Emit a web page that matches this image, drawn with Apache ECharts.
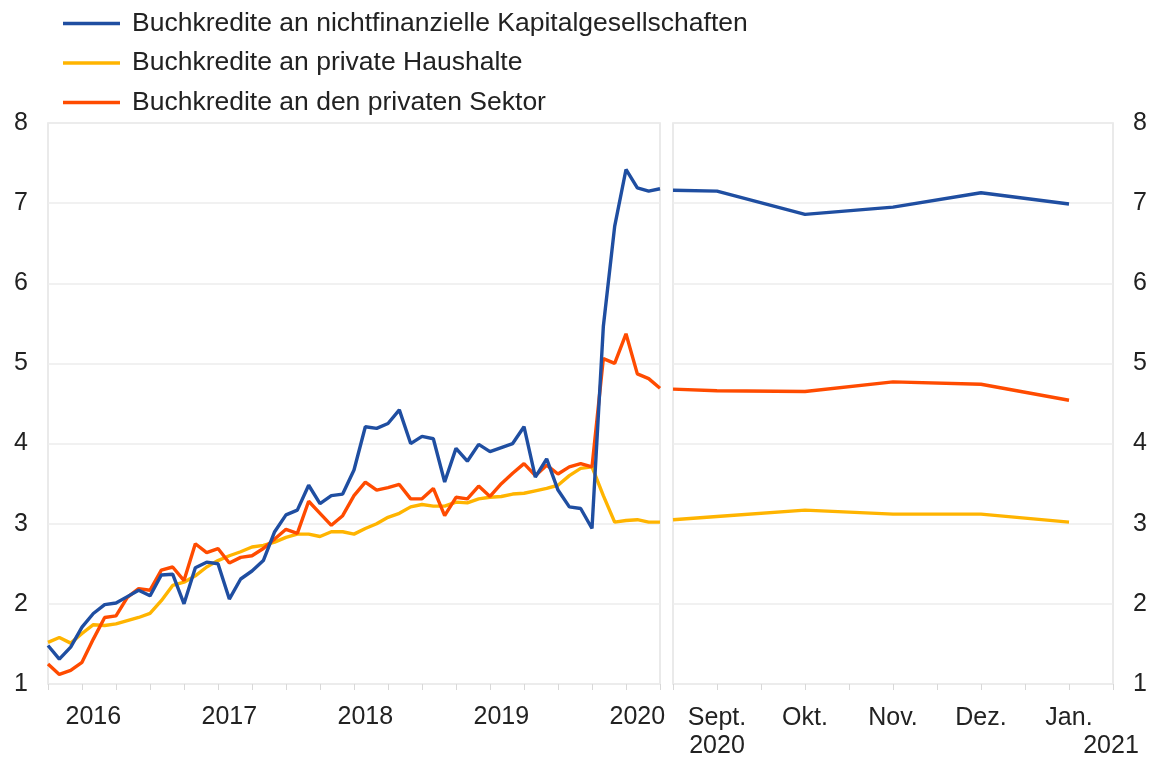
<!DOCTYPE html>
<html><head><meta charset="utf-8">
<script src="https://cdn.jsdelivr.net/npm/echarts@6/dist/echarts.min.js"></script>
<style>html,body{margin:0;padding:0;background:#fff}#c{width:1157px;height:758px}</style>
</head><body><div id="c"></div>
<script>
const seriesNames = [
  'Buchkredite an nichtfinanzielle Kapitalgesellschaften',
  'Buchkredite an private Haushalte',
  'Buchkredite an den privaten Sektor'
];
const colors = ['#1f4ea1', '#ffb400', '#ff4b00'];

// Left panel: monthly observations
const months = [
  '2016-02','2016-03','2016-04','2016-05','2016-06','2016-07','2016-08','2016-09','2016-10','2016-11','2016-12',
  '2017-01','2017-02','2017-03','2017-04','2017-05','2017-06','2017-07','2017-08','2017-09','2017-10','2017-11','2017-12',
  '2018-01','2018-02','2018-03','2018-04','2018-05','2018-06','2018-07','2018-08','2018-09','2018-10','2018-11','2018-12',
  '2019-01','2019-02','2019-03','2019-04','2019-05','2019-06','2019-07','2019-08','2019-09','2019-10','2019-11','2019-12',
  '2020-01','2020-02','2020-03','2020-04','2020-05','2020-06','2020-07','2020-08'
];
const nfcLeft = [
  1.48,1.31,1.46,1.71,1.88,1.99,2.01,2.09,2.17,2.10,2.36,
  2.37,2.00,2.45,2.52,2.50,2.06,2.31,2.41,2.54,2.90,3.11,3.17,
  3.48,3.25,3.35,3.37,3.67,4.21,4.19,4.25,4.42,4.00,4.09,4.06,
  3.52,3.94,3.78,3.99,3.90,3.95,4.00,4.21,3.58,3.81,3.42,3.21,
  3.19,2.94,5.46,6.71,7.42,7.19,7.15,7.18
];
const hhLeft = [
  1.52,1.58,1.51,1.63,1.74,1.73,1.75,1.79,1.83,1.88,2.04,
  2.23,2.27,2.35,2.46,2.54,2.60,2.65,2.71,2.73,2.77,2.83,2.87,
  2.87,2.84,2.90,2.90,2.87,2.94,3.00,3.08,3.13,3.21,3.24,3.22,
  3.22,3.27,3.26,3.31,3.33,3.34,3.37,3.38,3.41,3.44,3.48,3.60,
  3.69,3.71,3.35,3.02,3.04,3.05,3.02,3.02
];
const pspLeft = [
  1.25,1.12,1.17,1.27,1.56,1.83,1.85,2.08,2.19,2.17,2.42,
  2.46,2.29,2.75,2.64,2.69,2.51,2.58,2.60,2.69,2.81,2.93,2.88,
  3.28,3.13,2.98,3.10,3.35,3.52,3.42,3.45,3.49,3.31,3.31,3.44,
  3.10,3.33,3.31,3.47,3.34,3.50,3.63,3.75,3.60,3.73,3.62,3.71,
  3.75,3.71,5.06,5.00,5.37,4.87,4.81,4.69
];

// Right panel: Aug. 2020 (edge) to Jan. 2021, in months from Sept. 2020
const rightPos = [-0.5, 0, 1, 2, 3, 4];
const rightMonths = ['Sept.', 'Okt.', 'Nov.', 'Dez.', 'Jan.'];
const rightYears = ['2020', '', '', '', '2021'];
const nfcRight = [7.16, 7.15, 6.86, 6.95, 7.13, 6.99];
const hhRight = [3.05, 3.09, 3.17, 3.12, 3.12, 3.02];
const pspRight = [4.68, 4.66, 4.65, 4.77, 4.74, 4.54];

const FONT = 'Liberation Sans, Arial, sans-serif';
const TXT = '#222';
const FS = 25;

const chart = echarts.init(document.getElementById('c'));

function lineSeries(name, data, color, axis) {
  return {
    name, type: 'line', data, xAxisIndex: axis, yAxisIndex: axis,
    symbol: 'none', color, lineStyle: { width: 3.4, color }, animation: false
  };
}

const pair = (xs, ys) => xs.map((x, i) => [x, ys[i]]);

chart.setOption({
  backgroundColor: '#fff',
  animation: false,
  textStyle: { fontFamily: FONT },
  legend: {
    orient: 'vertical', left: 58, top: 5,
    icon: 'rect', itemWidth: 57, itemHeight: 3.4, itemGap: 12.5,
    data: seriesNames,
    textStyle: { fontFamily: FONT, fontSize: 26.5, color: TXT, lineHeight: 26.5, padding: [0, 0, 0, 7] }
  },
  grid: [
    { left: 48, right: 497, top: 123, bottom: 74, show: true, borderColor: '#e3e3e3', borderWidth: 1.5,
      containLabel: false, outerBoundsMode: 'none' },
    { left: 673, right: 44, top: 123, bottom: 74, show: true, borderColor: '#e3e3e3', borderWidth: 1.5,
      containLabel: false, outerBoundsMode: 'none' }
  ],
  xAxis: [
    {
      type: 'category', gridIndex: 0, data: months, boundaryGap: false,
      axisLine: { show: false },
      axisTick: { show: true, length: 6, lineStyle: { color: '#d8d8d8' },
        interval: (idx) => idx % 3 === 0 },
      axisLabel: {
        interval: (idx, val) => val.endsWith('-06'),
        formatter: (val) => val.slice(0, 4),
        fontSize: FS, color: TXT, fontFamily: FONT, margin: 21
      },
      splitLine: { show: false }
    },
    {
      type: 'value', gridIndex: 1, min: -0.5, max: 4.5, interval: 0.5,
      axisLine: { show: false },
      axisTick: { show: true, length: 6, lineStyle: { color: '#d8d8d8' } },
      splitLine: { show: false },
      axisLabel: {
        showMinLabel: true, showMaxLabel: true,
        margin: 20, color: TXT, fontFamily: FONT, fontSize: FS, lineHeight: 28,
        formatter: (v) => {
          if (!Number.isInteger(v) || v < 0 || v > 4) return '';
          const m = rightMonths[v], y = rightYears[v];
          if (!y) return '{m|' + m + '}';
          if (v === 4) return '{m|' + m + '}\n{r|' + y + '}';
          return '{m|' + m + '}\n{m|' + y + '}';
        },
        rich: {
          m: { fontSize: FS, fontFamily: FONT, color: TXT, lineHeight: 28, align: 'center' },
          r: { fontSize: FS, fontFamily: FONT, color: TXT, lineHeight: 28, align: 'center', padding: [0, 0, 0, 84] }
        }
      }
    }
  ],
  yAxis: [
    {
      type: 'value', gridIndex: 0, min: 1, max: 8, interval: 1, position: 'left',
      axisLine: { show: false }, axisTick: { show: false },
      axisLabel: { fontSize: FS, color: TXT, fontFamily: FONT, margin: 20 },
      splitLine: { show: true, lineStyle: { color: '#ececec', width: 1.5 } }
    },
    {
      type: 'value', gridIndex: 1, min: 1, max: 8, interval: 1, position: 'right',
      axisLine: { show: false }, axisTick: { show: false },
      axisLabel: { fontSize: FS, color: TXT, fontFamily: FONT, margin: 20 },
      splitLine: { show: true, lineStyle: { color: '#ececec', width: 1.5 } }
    }
  ],
  series: [
    lineSeries(seriesNames[1], hhLeft, colors[1], 0),
    lineSeries(seriesNames[2], pspLeft, colors[2], 0),
    lineSeries(seriesNames[0], nfcLeft, colors[0], 0),
    lineSeries(seriesNames[1], pair(rightPos, hhRight), colors[1], 1),
    lineSeries(seriesNames[2], pair(rightPos, pspRight), colors[2], 1),
    lineSeries(seriesNames[0], pair(rightPos, nfcRight), colors[0], 1)
  ]
});
</script>
</body></html>
